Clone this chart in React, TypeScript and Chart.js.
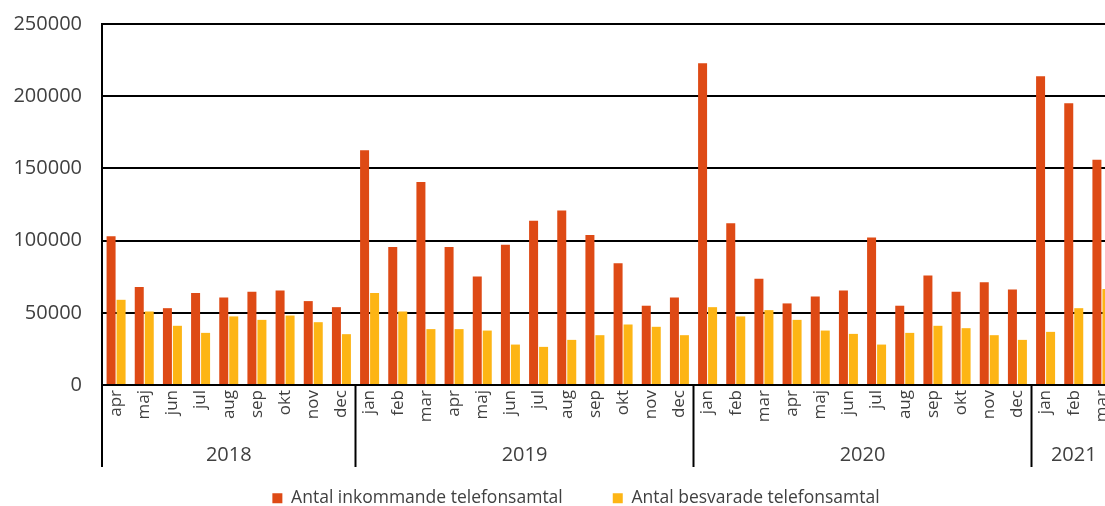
import React, { useEffect, useRef } from "react";
import { Chart, registerables } from "chart.js";

Chart.register(...registerables);

const monthLabels = [
  "apr", "maj", "jun", "jul", "aug", "sep", "okt", "nov", "dec",
  "jan", "feb", "mar", "apr", "maj", "jun", "jul", "aug", "sep", "okt", "nov", "dec",
  "jan", "feb", "mar", "apr", "maj", "jun", "jul", "aug", "sep", "okt", "nov", "dec",
  "jan", "feb", "mar",
];
const yearLabels = ["2018", "2019", "2020", "2021"];
const monthsPerYear = [9, 12, 12, 3];

const incoming = [
  103000, 67800, 53200, 63700, 60600, 64600, 65500, 58100, 53900,
  162500, 95600, 140500, 95600, 75200, 97200, 113700, 120800, 103900, 84300, 54900, 60600,
  222900, 112000, 73600, 56500, 61300, 65500, 102100, 54900, 75900, 64600, 71100, 66200,
  213900, 195100, 156000,
];
const answered = [
  59000, 50900, 41000, 36100, 47500, 45100, 48100, 43500, 35200,
  63700, 50900, 38700, 38700, 37700, 28000, 26400, 31250, 34500, 41900, 40300, 34500,
  53900, 47500, 51850, 45100, 37700, 35400, 28000, 36100, 41000, 39350, 34500, 31250,
  36800, 53200, 66400,
];
const seriesNames = ["Antal inkommande telefonsamtal", "Antal besvarade telefonsamtal"];
const yMax = 250000;
const yStep = 50000;

const FONT = "'Open Sans', 'Noto Sans', sans-serif";
const TEXT = "#404040";

const yearGroups = {
  id: "yearGroups",
  afterDraw(chart: any) {
    const { ctx, chartArea, scales } = chart;
    const x = scales.x;
    const n = monthLabels.length;
    const edge = (i: number) =>
      i <= 0
        ? chartArea.left
        : i >= n
        ? chartArea.right
        : (x.getPixelForValue(i - 1) + x.getPixelForValue(i)) / 2;
    const top = chartArea.bottom;
    ctx.save();
    ctx.strokeStyle = "#000";
    ctx.lineWidth = 2;
    ctx.fillStyle = TEXT;
    ctx.font = `20px ${FONT}`;
    ctx.textAlign = "center";
    ctx.textBaseline = "middle";
    let start = 0;
    monthsPerYear.forEach((count, g) => {
      const l = edge(start);
      const r = edge(start + count);
      ctx.beginPath();
      ctx.moveTo(l, top);
      ctx.lineTo(l, top + 82);
      ctx.stroke();
      ctx.fillText(yearLabels[g], (l + r) / 2, top + 70);
      start += count;
    });
    ctx.restore();
  },
};

export default function App() {
  const ref = useRef<HTMLCanvasElement>(null);
  useEffect(() => {
    if (!ref.current) return;
    const chart = new Chart(ref.current, {
      type: "bar",
      data: {
        labels: monthLabels,
        datasets: [
          {
            label: seriesNames[0],
            data: incoming,
            backgroundColor: "#DE4A15",
            borderWidth: 0,
            categoryPercentage: 0.71,
            barPercentage: 0.9,
          },
          {
            label: seriesNames[1],
            data: answered,
            backgroundColor: "#FDB515",
            borderWidth: 0,
            categoryPercentage: 0.71,
            barPercentage: 0.9,
          },
        ],
      },
      options: {
        responsive: false,
        animation: false,
        layout: { padding: { left: 0, top: 24, right: 0, bottom: 0 } },
        plugins: {
          tooltip: { enabled: false },
          legend: {
            position: "bottom",
            labels: {
              boxWidth: 10,
              boxHeight: 10,
              padding: 50,
              color: TEXT,
              font: { family: FONT, size: 17.5 },
            },
          },
        },
        scales: {
          x: {
            grid: { display: false, drawTicks: false },
            border: { display: true, color: "#000", width: 2 },
            ticks: {
              autoSkip: false,
              minRotation: 90,
              maxRotation: 90,
              padding: 5,
              color: TEXT,
              font: { family: FONT, size: 17 },
            },
            afterFit(scale: any) {
              scale.height = 54.5;
            },
          },
          y: {
            min: 0,
            max: yMax,
            ticks: {
              stepSize: yStep,
              padding: 20,
              color: TEXT,
              font: { family: FONT, size: 20, lineHeight: 0.4 },
              callback: (v: any) => String(v),
            },
            grid: { color: "#000", lineWidth: 2, drawTicks: false },
            border: { display: true, color: "#000", width: 2 },
            afterFit(scale: any) {
              scale.width = 102;
            },
          },
          y2: {
            position: "right",
            display: true,
            min: 0,
            max: yMax,
            ticks: { display: false },
            grid: { display: false, drawTicks: false },
            border: { display: false },
            afterFit(scale: any) {
              scale.width = 36;
            },
          },
        },
      },
      plugins: [yearGroups],
    });
    return () => chart.destroy();
  }, []);
  return (
    <div
      style={{
        position: "fixed",
        left: 0,
        top: 0,
        width: 1105,
        height: 506,
        overflow: "hidden",
        background: "#fff",
      }}
    >
      <canvas ref={ref} width={1152} height={517} style={{ width: 1152, height: 517, display: "block" }} />
    </div>
  );
}
